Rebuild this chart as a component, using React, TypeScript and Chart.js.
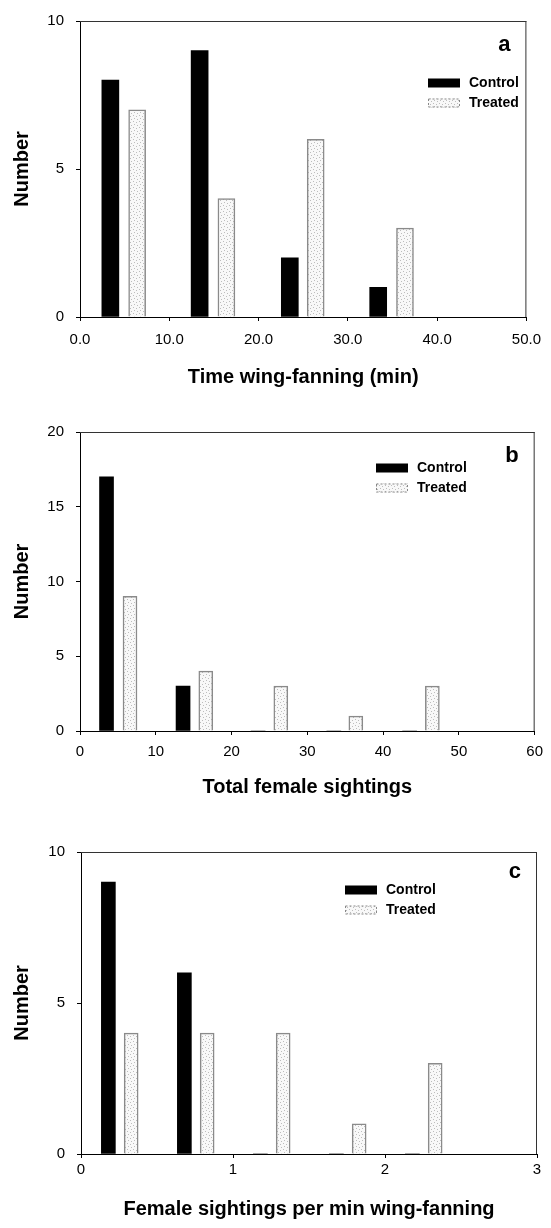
import React, { useEffect, useRef } from 'react';
import { Chart, registerables } from 'chart.js';

Chart.register(...registerables);

const FONT = '"Liberation Sans", Arial, Helvetica, sans-serif';

// ---- Panel a: Time wing-fanning (min)
const aControlX = [3.4, 13.4, 23.5, 33.4];
const aControl = [8, 9, 2, 1];
const aTreatedX = [6.4, 16.4, 26.4, 36.4];
const aTreated = [7, 4, 6, 3];

// ---- Panel b: Total female sightings
const bControlX = [3.5, 13.6, 23.5, 33.5, 43.5];
const bControl = [17, 3, 0, 0, 0];
const bTreatedX = [6.6, 16.6, 26.5, 36.4, 46.5];
const bTreated = [9, 4, 3, 1, 3];

// ---- Panel c: Female sightings per min wing-fanning
const cControlX = [0.18, 0.68, 1.18, 1.68, 2.18];
const cControl = [9, 6, 0, 0, 0];
const cTreatedX = [0.33, 0.83, 1.33, 1.83, 2.33];
const cTreated = [4, 4, 4, 1, 3];

const seriesNames = ['Control', 'Treated'];
const yTitle = 'Number';

function makePattern(): CanvasPattern | string {
  const p = document.createElement('canvas');
  p.width = 6;
  p.height = 6;
  const c = p.getContext('2d');
  if (!c) return '#f2f2f2';
  c.fillStyle = '#f8f8f8';
  c.fillRect(0, 0, 6, 6);
  c.fillStyle = '#bdbdbd';
  c.fillRect(1, 1, 1, 1);
  c.fillRect(4, 2, 1, 1);
  c.fillRect(2, 4, 1, 1);
  c.fillRect(5, 5, 1, 1);
  const pat = c.createPattern(p, 'repeat');
  return pat || '#f2f2f2';
}

const decorPlugin = {
  id: 'decor',
  afterDraw(chart: any, _args: any, opts: any) {
    const { ctx, chartArea: ca } = chart;
    ctx.save();
    // top and right frame lines
    ctx.strokeStyle = '#333';
    ctx.lineWidth = 1;
    ctx.beginPath();
    ctx.moveTo(ca.left, ca.top + 0.5);
    ctx.lineTo(ca.right, ca.top + 0.5);
    ctx.moveTo(ca.right - 0.5, ca.top);
    ctx.lineTo(ca.right - 0.5, ca.bottom);
    ctx.stroke();
    // panel letter
    ctx.fillStyle = '#000';
    ctx.font = `bold 22px ${FONT}`;
    ctx.textAlign = 'right';
    ctx.textBaseline = 'alphabetic';
    ctx.fillText(opts.letter, ca.right - 16, ca.top + opts.letterDy);
    // legend
    const sw = 32;
    const sh = 9;
    ctx.font = `bold 14px ${FONT}`;
    ctx.textAlign = 'left';
    ctx.textBaseline = 'middle';
    opts.rows.forEach((y: number, i: number) => {
      if (i === 0) {
        ctx.fillStyle = '#000';
        ctx.fillRect(opts.swatchX, y - sh / 2, sw, sh);
      } else {
        ctx.fillStyle = opts.pattern;
        ctx.fillRect(opts.swatchX, y - sh / 2, sw, sh);
        ctx.strokeStyle = '#888';
        ctx.setLineDash([2, 2]);
        ctx.strokeRect(opts.swatchX + 0.5, y - sh / 2 + 0.5, sw - 1, sh - 1);
        ctx.setLineDash([]);
      }
      ctx.fillStyle = '#000';
      ctx.fillText(seriesNames[i], opts.swatchX + sw + 9, y);
    });
    ctx.restore();
  },
};

type PanelCfg = {
  top: number;
  height: number;
  padTop: number;
  padRight: number;
  plotLeft: number;
  xAxisH: number;
  xTickPad: number;
  xTitlePad: number;
  xMin: number;
  xMax: number;
  xStep: number;
  xFixed: number;
  yMax: number;
  xTitle: string;
  barW: number;
  controlX: number[];
  control: number[];
  treatedX: number[];
  treated: number[];
  letter: string;
  letterDy: number;
  swatchX: number;
  rows: number[];
};

function Panel({ cfg }: { cfg: PanelCfg }) {
  const ref = useRef<HTMLCanvasElement>(null);
  useEffect(() => {
    if (!ref.current) return;
    const pattern = makePattern();
    const chart = new Chart(ref.current, {
      type: 'bar',
      data: {
        datasets: [
          {
            label: seriesNames[0],
            data: cfg.controlX.map((x, i) => ({ x, y: cfg.control[i] })),
            backgroundColor: '#000',
            borderWidth: 0,
            barThickness: cfg.barW,
            grouped: false,
          } as any,
          {
            label: seriesNames[1],
            data: cfg.treatedX.map((x, i) => ({ x, y: cfg.treated[i] })),
            backgroundColor: pattern,
            borderColor: '#8a8a8a',
            borderWidth: 1.5,
            barThickness: cfg.barW,
            grouped: false,
          } as any,
        ],
      },
      options: {
        responsive: false,
        animation: false,
        layout: { padding: { top: cfg.padTop, right: cfg.padRight, left: 0, bottom: 0 } },
        plugins: {
          legend: { display: false },
          tooltip: { enabled: false },
          decor: {
            letter: cfg.letter,
            letterDy: cfg.letterDy,
            swatchX: cfg.swatchX,
            rows: cfg.rows,
            pattern,
          },
        } as any,
        scales: {
          x: {
            type: 'linear',
            offset: false,
            min: cfg.xMin,
            max: cfg.xMax,
            afterFit: (s: any) => {
              s.height = cfg.xAxisH;
            },
            grid: {
              offset: false,
              drawOnChartArea: false,
              drawTicks: true,
              tickLength: 4,
              color: '#000',
            },
            border: { display: true, color: '#000', width: 1 },
            ticks: {
              stepSize: cfg.xStep,
              autoSkip: false,
              maxRotation: 0,
              padding: cfg.xTickPad,
              color: '#000',
              font: { family: FONT, size: 15 },
              callback: (v: any) => Number(v).toFixed(cfg.xFixed),
            },
            title: {
              display: true,
              text: cfg.xTitle,
              color: '#000',
              font: { family: FONT, size: 20, weight: 'bold' },
              padding: { top: 0, bottom: cfg.xTitlePad },
            },
          } as any,
          y: {
            type: 'linear',
            min: 0,
            max: cfg.yMax,
            afterFit: (s: any) => {
              s.width = cfg.plotLeft;
            },
            grid: {
              drawOnChartArea: false,
              drawTicks: true,
              tickLength: 4,
              color: '#000',
            },
            border: { display: true, color: '#000', width: 1 },
            ticks: {
              stepSize: 5,
              padding: 12,
              color: '#000',
              font: { family: FONT, size: 15 },
            },
            title: {
              display: true,
              text: yTitle,
              color: '#000',
              font: { family: FONT, size: 20, weight: 'bold' },
              padding: { top: 10, bottom: 0 },
            },
          } as any,
        },
      },
      plugins: [decorPlugin as any],
    });
    return () => chart.destroy();
  }, []);
  return (
    <div style={{ position: 'absolute', left: 0, top: cfg.top, width: 551, height: cfg.height }}>
      <canvas ref={ref} width={551} height={cfg.height} style={{ width: 551, height: cfg.height, display: 'block' }} />
    </div>
  );
}

const panelA: PanelCfg = {
  top: 0, height: 400, padTop: 15, padRight: 15, plotLeft: 80, xAxisH: 83, xTickPad: 10, xTitlePad: 11,
  xMin: 0, xMax: 50, xStep: 10, xFixed: 1, yMax: 10, xTitle: 'Time wing-fanning (min)', barW: 17,
  controlX: aControlX, control: aControl, treatedX: aTreatedX, treated: aTreated,
  letter: 'a', letterDy: 30, swatchX: 428, rows: [83, 103],
};

const panelB: PanelCfg = {
  top: 400, height: 400, padTop: 32, padRight: 15, plotLeft: 80, xAxisH: 69, xTickPad: 8, xTitlePad: 1,
  xMin: 0, xMax: 60, xStep: 10, xFixed: 0, yMax: 20, xTitle: 'Total female sightings', barW: 14,
  controlX: bControlX, control: bControl, treatedX: bTreatedX, treated: bTreated,
  letter: 'b', letterDy: 30, swatchX: 376, rows: [68, 88],
};

const panelC: PanelCfg = {
  top: 800, height: 428, padTop: 52, padRight: 14, plotLeft: 81, xAxisH: 74, xTickPad: 3, xTitlePad: 7,
  xMin: 0, xMax: 3, xStep: 1, xFixed: 0, yMax: 10, xTitle: 'Female sightings per min wing-fanning', barW: 14,
  controlX: cControlX, control: cControl, treatedX: cTreatedX, treated: cTreated,
  letter: 'c', letterDy: 26, swatchX: 345, rows: [90, 110],
};

export default function App() {
  return (
    <div style={{ position: 'absolute', left: 0, top: 0, width: 551, height: 1228, background: '#fff', overflow: 'hidden' }}>
      <Panel cfg={panelA} />
      <Panel cfg={panelB} />
      <Panel cfg={panelC} />
    </div>
  );
}
